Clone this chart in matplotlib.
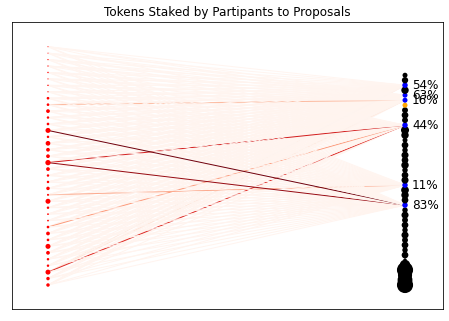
import matplotlib
matplotlib.use("Agg")
import matplotlib.pyplot as plt
import matplotlib.colors as mcolors
from matplotlib.collections import LineCollection
import numpy as np

# Participant token holdings, listed from the bottom participant to the top one
participant_holdings = [12, 12, 25, 6, 6, 14, 25, 7, 14, 7,
                        3, 3, 6, 25, 4, 12, 6, 6, 14, 28,
                        14, 14, 22, 6, 25, 7, 6, 14, 7, 7,
                        1.5, 2, 1.2, 2, 1.5, 1.5, 1.0, 1.0]

# Funds requested per proposal, listed from the bottom proposal upwards
proposal_funds = [260, 220, 200, 260, 110, 12, 45, 30, 45, 35,
                  50, 30, 45, 35, 50, 30, 30, 45, 55, 60,
                  30, 50, 45, 30, 55, 45, 50, 30, 45, 25,
                  55, 65, 30, 35, 45, 35, 25, 25, 25, 55,
                  30, 40, 25]

# Proposal status by index (everything not listed here is killed)
candidate_ids = [16, 20, 32, 37, 38, 40]
active_ids = [36]
total_proposals = 49  # proposals in the final network (sets the vertical spacing)

# Conviction reached by each candidate, as a percent of its trigger threshold
conviction_pct = {16: 83, 20: 11, 32: 44, 37: 16, 38: 63, 40: 54}

# Tokens each participant stakes on each candidate (participant order bottom -> top)
stakes = {
    32: [0.8, 0.5, 68, 0.9, 0.6, 0.7, 0.4, 0.8, 0.4, 35,
         0.6, 0.5, 0.9, 0.6, 0.8, 0.4, 0.6, 0.4, 0.7, 72,
         0.6, 0.8, 0.5, 0.6, 0.8, 0.4, 0.6, 0.7, 0.5, 0.4,
         0.3, 0.4, 0.3, 0.4, 0.3, 0.3, 0.2, 0.2],
    16: [0.6, 0.8, 0.9, 0.5, 0.7, 0.6, 0.8, 0.4, 0.6, 0.8,
         0.4, 0.5, 0.7, 0.6, 0.8, 0.6, 0.5, 0.8, 0.6, 90,
         0.7, 0.4, 0.6, 0.5, 98, 0.6, 0.8, 0.4, 0.6, 0.5,
         0.3, 0.4, 0.3, 0.3, 0.4, 0.3, 0.2, 0.2],
    20: [0.6, 0.7, 0.6, 0.8, 0.5, 0.8, 0.6, 0.6, 0.7, 0.5,
         0.4, 0.6, 0.8, 0.6, 30, 0.6, 0.7, 0.5, 0.6, 0.8,
         0.6, 0.6, 0.5, 0.8, 0.7, 0.6, 0.5, 0.6, 0.4, 0.6,
         0.3, 0.3, 0.4, 0.3, 0.3, 0.3, 0.2, 0.2],
    37: [0.7, 0.6, 9, 0.6, 0.8, 0.5, 0.7, 0.6, 0.6, 0.8,
         0.5, 0.4, 0.6, 0.8, 0.6, 0.7, 0.5, 0.6, 0.8, 0.9,
         0.6, 0.6, 0.7, 0.5, 0.8, 0.6, 0.6, 0.5, 25, 0.4,
         0.4, 0.3, 0.3, 0.4, 0.3, 0.3, 0.2, 0.2],
    38: [0.6, 0.7, 0.6, 0.8, 0.6, 0.5, 0.6, 0.7, 0.6, 0.6,
         0.5, 0.6, 0.7, 0.6, 0.8, 0.6, 0.6, 0.5, 0.7, 0.8,
         0.6, 0.6, 0.8, 0.6, 0.7, 0.5, 0.6, 0.6, 0.7, 0.5,
         0.4, 0.3, 0.3, 0.3, 0.4, 0.3, 0.2, 0.2],
    40: [0.6, 0.6, 7, 0.7, 0.6, 0.8, 0.6, 0.5, 0.7, 0.6,
         0.6, 0.5, 0.6, 0.7, 0.6, 0.8, 0.6, 0.6, 0.5, 0.8,
         0.6, 0.7, 0.6, 0.6, 0.8, 0.6, 0.5, 0.7, 0.6, 0.6,
         0.3, 0.4, 0.3, 0.3, 0.3, 0.3, 0.2, 0.2],
}
max_stake = 100.0

N = len(participant_holdings)
M = len(proposal_funds)

# Bipartite layout: participants on the left column, proposals on the right
part_pos = {i: (0.0, 2 * i - N) for i in range(N)}
prop_pos = {j: (1.0, 2 * N / total_proposals * j - N) for j in range(M)}

fig = plt.figure(figsize=(449 / 72, 321 / 72), dpi=72)
ax = fig.add_axes([12 / 449, 12 / 321, 431 / 449, 287 / 321])

# Support edges, coloured by staked tokens
cmap = plt.get_cmap("Reds")
norm = mcolors.Normalize(vmin=0, vmax=max_stake)
segments, edge_colors = [], []
for j in [40, 38, 37, 32, 20, 16]:
    for i in range(N):
        segments.append([part_pos[i], prop_pos[j]])
        edge_colors.append(cmap(norm(stakes[j][i])))
ax.add_collection(LineCollection(segments, colors=edge_colors, linewidths=1.0, zorder=1))

# Nodes
node_xy, node_size, node_color = [], [], []
for j in range(M):
    node_xy.append(prop_pos[j])
    node_size.append(proposal_funds[j])
    if j in candidate_ids:
        node_color.append("blue")
    elif j in active_ids:
        node_color.append("orange")
    else:
        node_color.append("black")
for i in range(N):
    node_xy.append(part_pos[i])
    node_size.append(participant_holdings[i])
    node_color.append("red")
node_xy = np.array(node_xy)
ax.scatter(node_xy[:, 0], node_xy[:, 1], s=node_size, c=node_color, linewidths=0, zorder=2)

# Candidate labels: conviction as percent of trigger
for j in candidate_ids:
    ax.annotate(f"{conviction_pct[j]}%", xy=prop_pos[j], xytext=(7, 0),
                textcoords="offset points", ha="left", va="center", fontsize=12,
                zorder=3)

ax.set_xlim(-0.1008, 1.1064)
ax.set_ylim(-45.45, 43.67)
ax.tick_params(axis="both", which="both", bottom=False, left=False,
               labelbottom=False, labelleft=False)
ax.set_title("Tokens Staked by Partipants to Proposals", fontsize=12)

fig.savefig("out.png", dpi=72)
